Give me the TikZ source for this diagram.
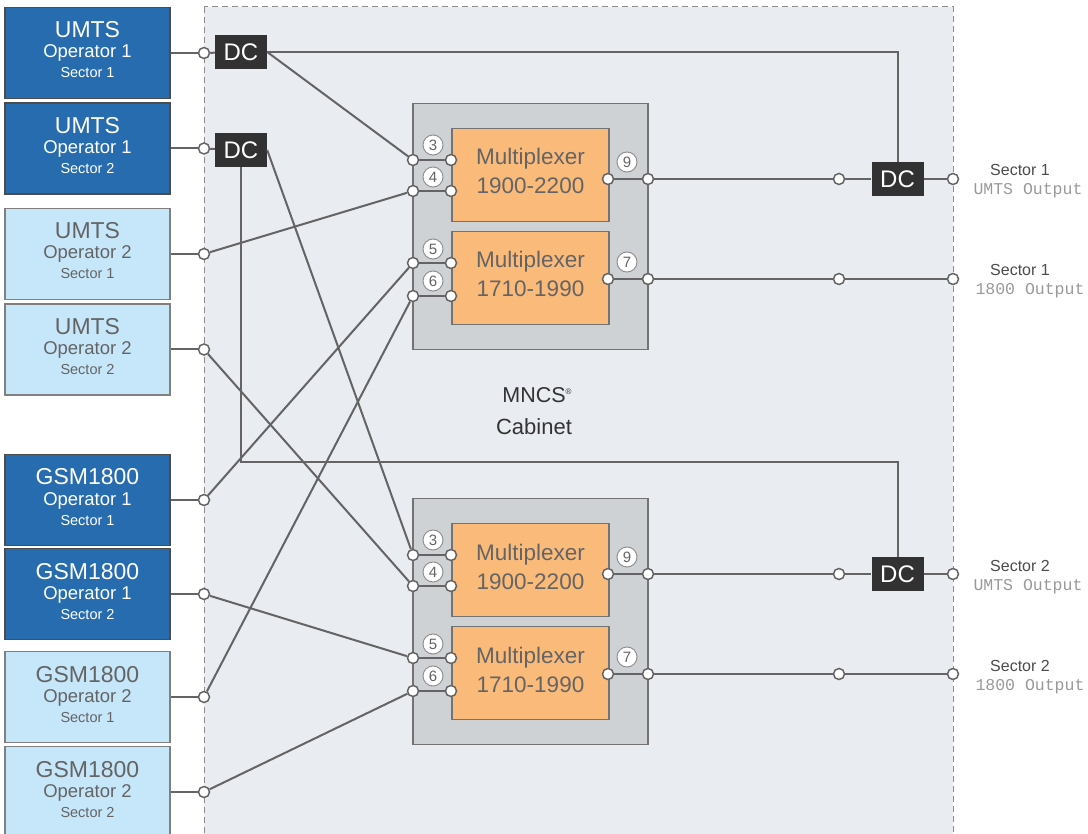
\documentclass[tikz,border=0pt]{standalone}
\usepackage{fontspec}
\setmainfont{Liberation Sans}
\newfontfamily\outmono{Liberation Mono}
\definecolor{darkblue}{RGB}{40,108,176}
\definecolor{lightblue}{RGB}{198,230,250}
\definecolor{cabfill}{RGB}{233,236,240}
\definecolor{muxfill}{RGB}{207,210,213}
\definecolor{orangefill}{RGB}{250,186,122}
\definecolor{wire}{RGB}{100,100,100}
\definecolor{greytext}{RGB}{100,100,100}
\definecolor{dcfill}{RGB}{50,50,50}
\tikzset{
  srcdark/.style={draw=black!70, line width=1.5pt, fill=darkblue, minimum width=165pt, minimum height=91pt, inner sep=0pt},
  srclight/.style={draw=black!50, line width=1.5pt, fill=lightblue, minimum width=165pt, minimum height=91pt, inner sep=0pt},
  srcdarktext/.style={text=white, anchor=base, inner sep=0pt},
  srclighttext/.style={text=greytext, anchor=base, inner sep=0pt},
  port/.style={circle, draw=wire, fill=white, line width=1.5pt, minimum size=11pt, inner sep=0pt},
  numlabel/.style={circle, draw=wire!70, fill=white, line width=1pt, minimum size=20pt, inner sep=0pt, text=greytext, font=\fontsize{15}{15}\selectfont},
  dcbox/.style={fill=dcfill, text=white, minimum width=52pt, minimum height=34pt, inner sep=0pt, font=\fontsize{24}{24}\selectfont},
  wireline/.style={draw=wire, line width=2pt},
  cabinet/.style={fill=cabfill, draw=black!45, line width=1pt, dash pattern=on 6pt off 4pt},
  muxouter/.style={fill=muxfill, draw=black!55, line width=1.5pt, minimum width=235pt, minimum height=246pt, inner sep=0pt},
  muxcore/.style={fill=orangefill, draw=black!55, line width=1.5pt, minimum width=157pt, minimum height=93pt, inner sep=0pt},
  muxtext/.style={text=greytext, anchor=base, inner sep=0pt, font=\fontsize{22.5}{22.5}\selectfont},
  sectortext/.style={text=black!70, anchor=base, inner sep=0pt, font=\fontsize{16}{16}\selectfont},
  outtext/.style={text=black!40, anchor=base, inner sep=0pt, font=\outmono\fontsize{16.5}{16.5}\selectfont},
}
\newcommand{\srcbox}[6]{%
  \node[src#3] (#1) at (87.5,#2) {};
  \node[src#3text, font=\fontsize{23}{23}\selectfont] (#1la) at (87.5,{#2-15}) {#4};
  \node[src#3text, font=\fontsize{18.5}{18.5}\selectfont] (#1lb) at (87.5,{#2+5}) {#5};
  \node[src#3text, font=\fontsize{14.5}{14.5}\selectfont] (#1lc) at (87.5,{#2+25}) {#6};
  \node[port] (#1p) at (204,#2) {};
  \draw[wireline] (#1) -- (#1p);
}
\newcommand{\muxgroup}[2]{%
  \node[muxouter] (#1box) at (530.5,{226.5+#2}) {};
  \node[muxcore] (#1a) at (530.5,{175+#2}) {};
  \node[muxcore] (#1b) at (530.5,{278+#2}) {};
  \node[muxtext] (#1at) at (530.5,{165+#2}) {Multiplexer};
  \node[muxtext] (#1ab) at (530.5,{194+#2}) {1900-2200};
  \node[muxtext] (#1bt) at (530.5,{268+#2}) {Multiplexer};
  \node[muxtext] (#1bb) at (530.5,{297+#2}) {1710-1990};
  \node[port] (#1o3) at (413,{160+#2}) {};
  \node[port] (#1i3) at (451,{160+#2}) {};
  \node[port] (#1o4) at (413,{191+#2}) {};
  \node[port] (#1i4) at (451,{191+#2}) {};
  \node[port] (#1o5) at (413,{263+#2}) {};
  \node[port] (#1i5) at (451,{263+#2}) {};
  \node[port] (#1o6) at (413,{296+#2}) {};
  \node[port] (#1i6) at (451,{296+#2}) {};
  \node[port] (#1i9) at (608,{179+#2}) {};
  \node[port] (#1o9) at (648,{179+#2}) {};
  \node[port] (#1i7) at (608,{279+#2}) {};
  \node[port] (#1o7) at (648,{279+#2}) {};
  \node[numlabel] (#1n3) at (433,{145+#2}) {3};
  \node[numlabel] (#1n4) at (433,{177+#2}) {4};
  \node[numlabel] (#1n5) at (433,{249+#2}) {5};
  \node[numlabel] (#1n6) at (433,{281+#2}) {6};
  \node[numlabel] (#1n9) at (627,{162+#2}) {9};
  \node[numlabel] (#1n7) at (627,{262+#2}) {7};
  \draw[wireline] (#1o3) -- (#1i3);
  \draw[wireline] (#1o4) -- (#1i4);
  \draw[wireline] (#1o5) -- (#1i5);
  \draw[wireline] (#1o6) -- (#1i6);
  \draw[wireline] (#1i9) -- (#1o9);
  \draw[wireline] (#1i7) -- (#1o7);
  \node[port] (#1r9) at (839,{179+#2}) {};
  \node[port] (#1e9) at (953,{179+#2}) {};
  \node[port] (#1r7) at (839,{279+#2}) {};
  \node[port] (#1e7) at (953,{279+#2}) {};
  \node[dcbox] (#1dc) at (897.5,{179+#2}) {DC};
  \draw[wireline] (#1o9) -- (#1r9) -- (#1dc) -- (#1e9);
  \draw[wireline] (#1o7) -- (#1r7) -- (#1e7);
}
\begin{document}
\begin{tikzpicture}[x=1pt,y=-1pt]
\useasboundingbox (0,0) rectangle (1088,834);
\fill[white] (0,0) rectangle (1088,834);
\draw[cabinet] (204,7) rectangle (953,860);

\srcbox{s1}{53}{dark}{UMTS}{Operator 1}{Sector 1}
\srcbox{s2}{148.5}{dark}{UMTS}{Operator 1}{Sector 2}
\srcbox{s3}{254}{light}{UMTS}{Operator 2}{Sector 1}
\srcbox{s4}{349.5}{light}{UMTS}{Operator 2}{Sector 2}
\srcbox{s5}{500}{dark}{GSM1800}{Operator 1}{Sector 1}
\srcbox{s6}{594}{dark}{GSM1800}{Operator 1}{Sector 2}
\srcbox{s7}{697}{light}{GSM1800}{Operator 2}{Sector 1}
\srcbox{s8}{792}{light}{GSM1800}{Operator 2}{Sector 2}

\muxgroup{u}{0}
\muxgroup{l}{395}

\node[dcbox] (dca) at (241,52) {DC};
\node[dcbox] (dcb) at (241,150) {DC};
\coordinate (bend) at (241,462);

\draw[wireline] (s1p) -- (dca);
\draw[wireline] (s2p) -- (dcb);
\draw[wireline] (dca.east) -| (udc.north);
\draw[wireline] (dca.east) -- (uo3);
\draw[wireline] (dcb.south) -- (bend) -| (ldc.north);
\draw[wireline] (dcb.east) -- (lo3);
\draw[wireline] (s3p) -- (uo4);
\draw[wireline] (s4p) -- (lo4);
\draw[wireline] (s5p) -- (uo5);
\draw[wireline] (s6p) -- (lo5);
\draw[wireline] (s7p) -- (uo6);
\draw[wireline] (s8p) -- (lo6);

\node[anchor=base, inner sep=0pt, text=black!80, font=\fontsize{21.5}{21.5}\selectfont] (mncs) at (534,403) {MNCS\rlap{\raisebox{9pt}{\fontsize{8}{8}\selectfont ®}}};
\node[anchor=base, inner sep=0pt, text=black!80, font=\fontsize{22}{22}\selectfont] (cab) at (534,435) {Cabinet};

\node[sectortext] (t1) at (1020,176) {Sector 1};
\node[outtext] (t1o) at (1028,195) {UMTS Output};
\node[sectortext] (t2) at (1020,276) {Sector 1};
\node[outtext] (t2o) at (1030,295) {1800 Output};
\node[sectortext] (t3) at (1020,571) {Sector 2};
\node[outtext] (t3o) at (1028,590) {UMTS Output};
\node[sectortext] (t4) at (1020,671) {Sector 2};
\node[outtext] (t4o) at (1030,690) {1800 Output};
\end{tikzpicture}
\end{document}
